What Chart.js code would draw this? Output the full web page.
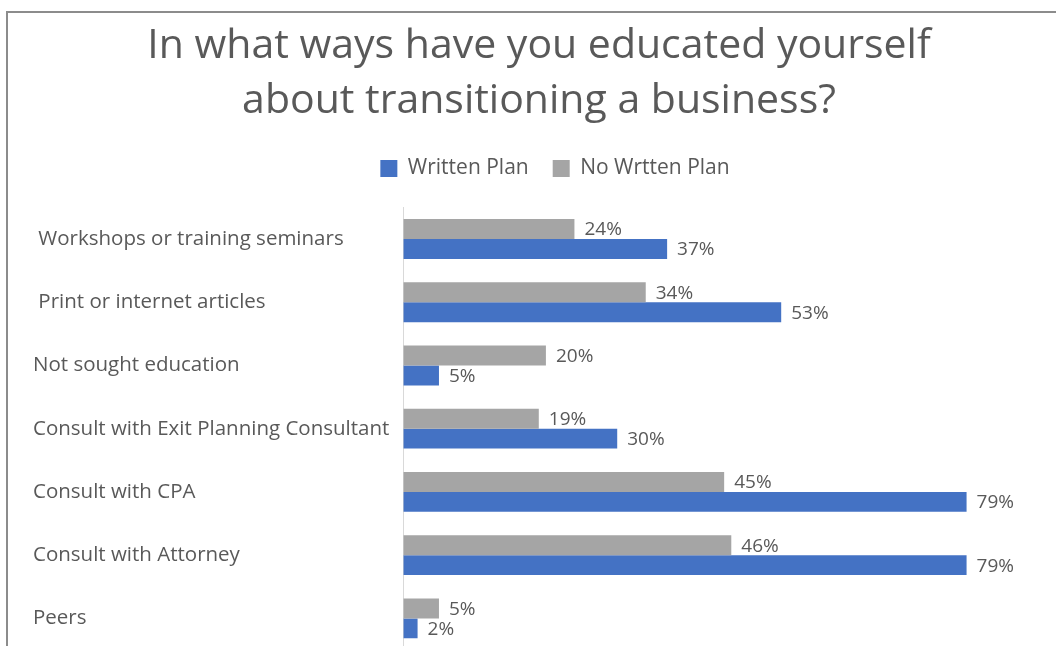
<!DOCTYPE html>
<html>
<head>
<meta charset="utf-8">
<script src="https://cdn.jsdelivr.net/npm/chart.js@4/dist/chart.umd.min.js"></script>
<style>
  html, body { margin: 0; padding: 0; background: #fff; overflow: hidden; }
  #wrap { position: relative; width: 1056px; height: 646px; overflow: hidden; }
  #frame { position: absolute; left: 6px; top: 11px; width: 1100px; height: 700px;
           border-left: 2px solid #8c8c8c; border-top: 2px solid #8c8c8c; box-sizing: border-box; }
  #box { position: absolute; left: 0; top: 0; width: 1056px; height: 680px; }
</style>
</head>
<body>
<div id="wrap">
  <div id="frame"></div>
  <div id="box"><canvas id="c"></canvas></div>
</div>
<script>
const titleLines = ['In what ways have you educated yourself', 'about transitioning a business?'];
const categories = [
  ' Workshops or training seminars',
  ' Print or internet articles',
  'Not sought education',
  'Consult with Exit Planning Consultant',
  'Consult with CPA',
  'Consult with Attorney',
  'Peers'
];
const writtenPlan = [37, 53, 5, 30, 79, 79, 2];
const noWrittenPlan = [24, 34, 20, 19, 45, 46, 5];
const seriesNames = ['Written Plan', 'No Wrtten Plan'];

const FONT = "'Open Sans', 'Noto Sans', sans-serif";
const TEXT = '#595959';

// Percent labels just past the end of every bar
const valueLabels = {
  id: 'valueLabels',
  afterDatasetsDraw(chart) {
    const ctx = chart.ctx;
    ctx.save();
    ctx.font = '19px ' + FONT;
    ctx.fillStyle = TEXT;
    ctx.textBaseline = 'middle';
    ctx.textAlign = 'left';
    chart.data.datasets.forEach((ds, i) => {
      chart.getDatasetMeta(i).data.forEach((bar, j) => {
        ctx.fillText(ds.data[j] + '%', bar.x + 10, bar.y + 1);
      });
    });
    ctx.restore();
  }
};

// Extra space under the legend, and the legend centred over the plot rather than the canvas
const legendPlacement = {
  id: 'legendPlacement',
  beforeInit(chart) {
    const fit = chart.legend.fit;
    chart.legend.fit = function () {
      fit.call(this);
      this.height += 18.5;
    };
  },
  afterLayout(chart) {
    chart.legend.left += 16;
    chart.legend.right += 16;
  }
};

new Chart(document.getElementById('c'), {
  type: 'bar',
  data: {
    labels: categories,
    datasets: [
      { label: seriesNames[1], data: noWrittenPlan, backgroundColor: '#A5A5A5' },
      { label: seriesNames[0], data: writtenPlan, backgroundColor: '#4472C4' }
    ]
  },
  options: {
    indexAxis: 'y',
    responsive: true,
    maintainAspectRatio: false,
    animation: false,
    datasets: { bar: { barPercentage: 1, categoryPercentage: 0.63 } },
    layout: { padding: { left: 33, right: 11, top: 19, bottom: 30 } },
    plugins: {
      title: {
        display: true,
        text: titleLines,
        color: TEXT,
        font: { family: FONT, size: 41, weight: 'normal', lineHeight: 1.34 },
        padding: { top: 0, bottom: 5 }
      },
      legend: {
        position: 'top',
        labels: {
          color: TEXT,
          font: { family: FONT, size: 21 },
          boxWidth: 17,
          boxHeight: 17,
          padding: 24,
          sort: (a, b) => b.datasetIndex - a.datasetIndex
        }
      },
      tooltip: { enabled: false }
    },
    scales: {
      x: {
        min: 0, max: 90,
        display: false
      },
      y: {
        grid: { display: false, drawTicks: false },
        border: { display: true, color: '#d9d9d9', width: 1 },
        ticks: {
          color: TEXT,
          font: { family: FONT, size: 20.5 },
          crossAlign: 'far',
          padding: 7
        }
      }
    }
  },
  plugins: [valueLabels, legendPlacement]
});
</script>
</body>
</html>
